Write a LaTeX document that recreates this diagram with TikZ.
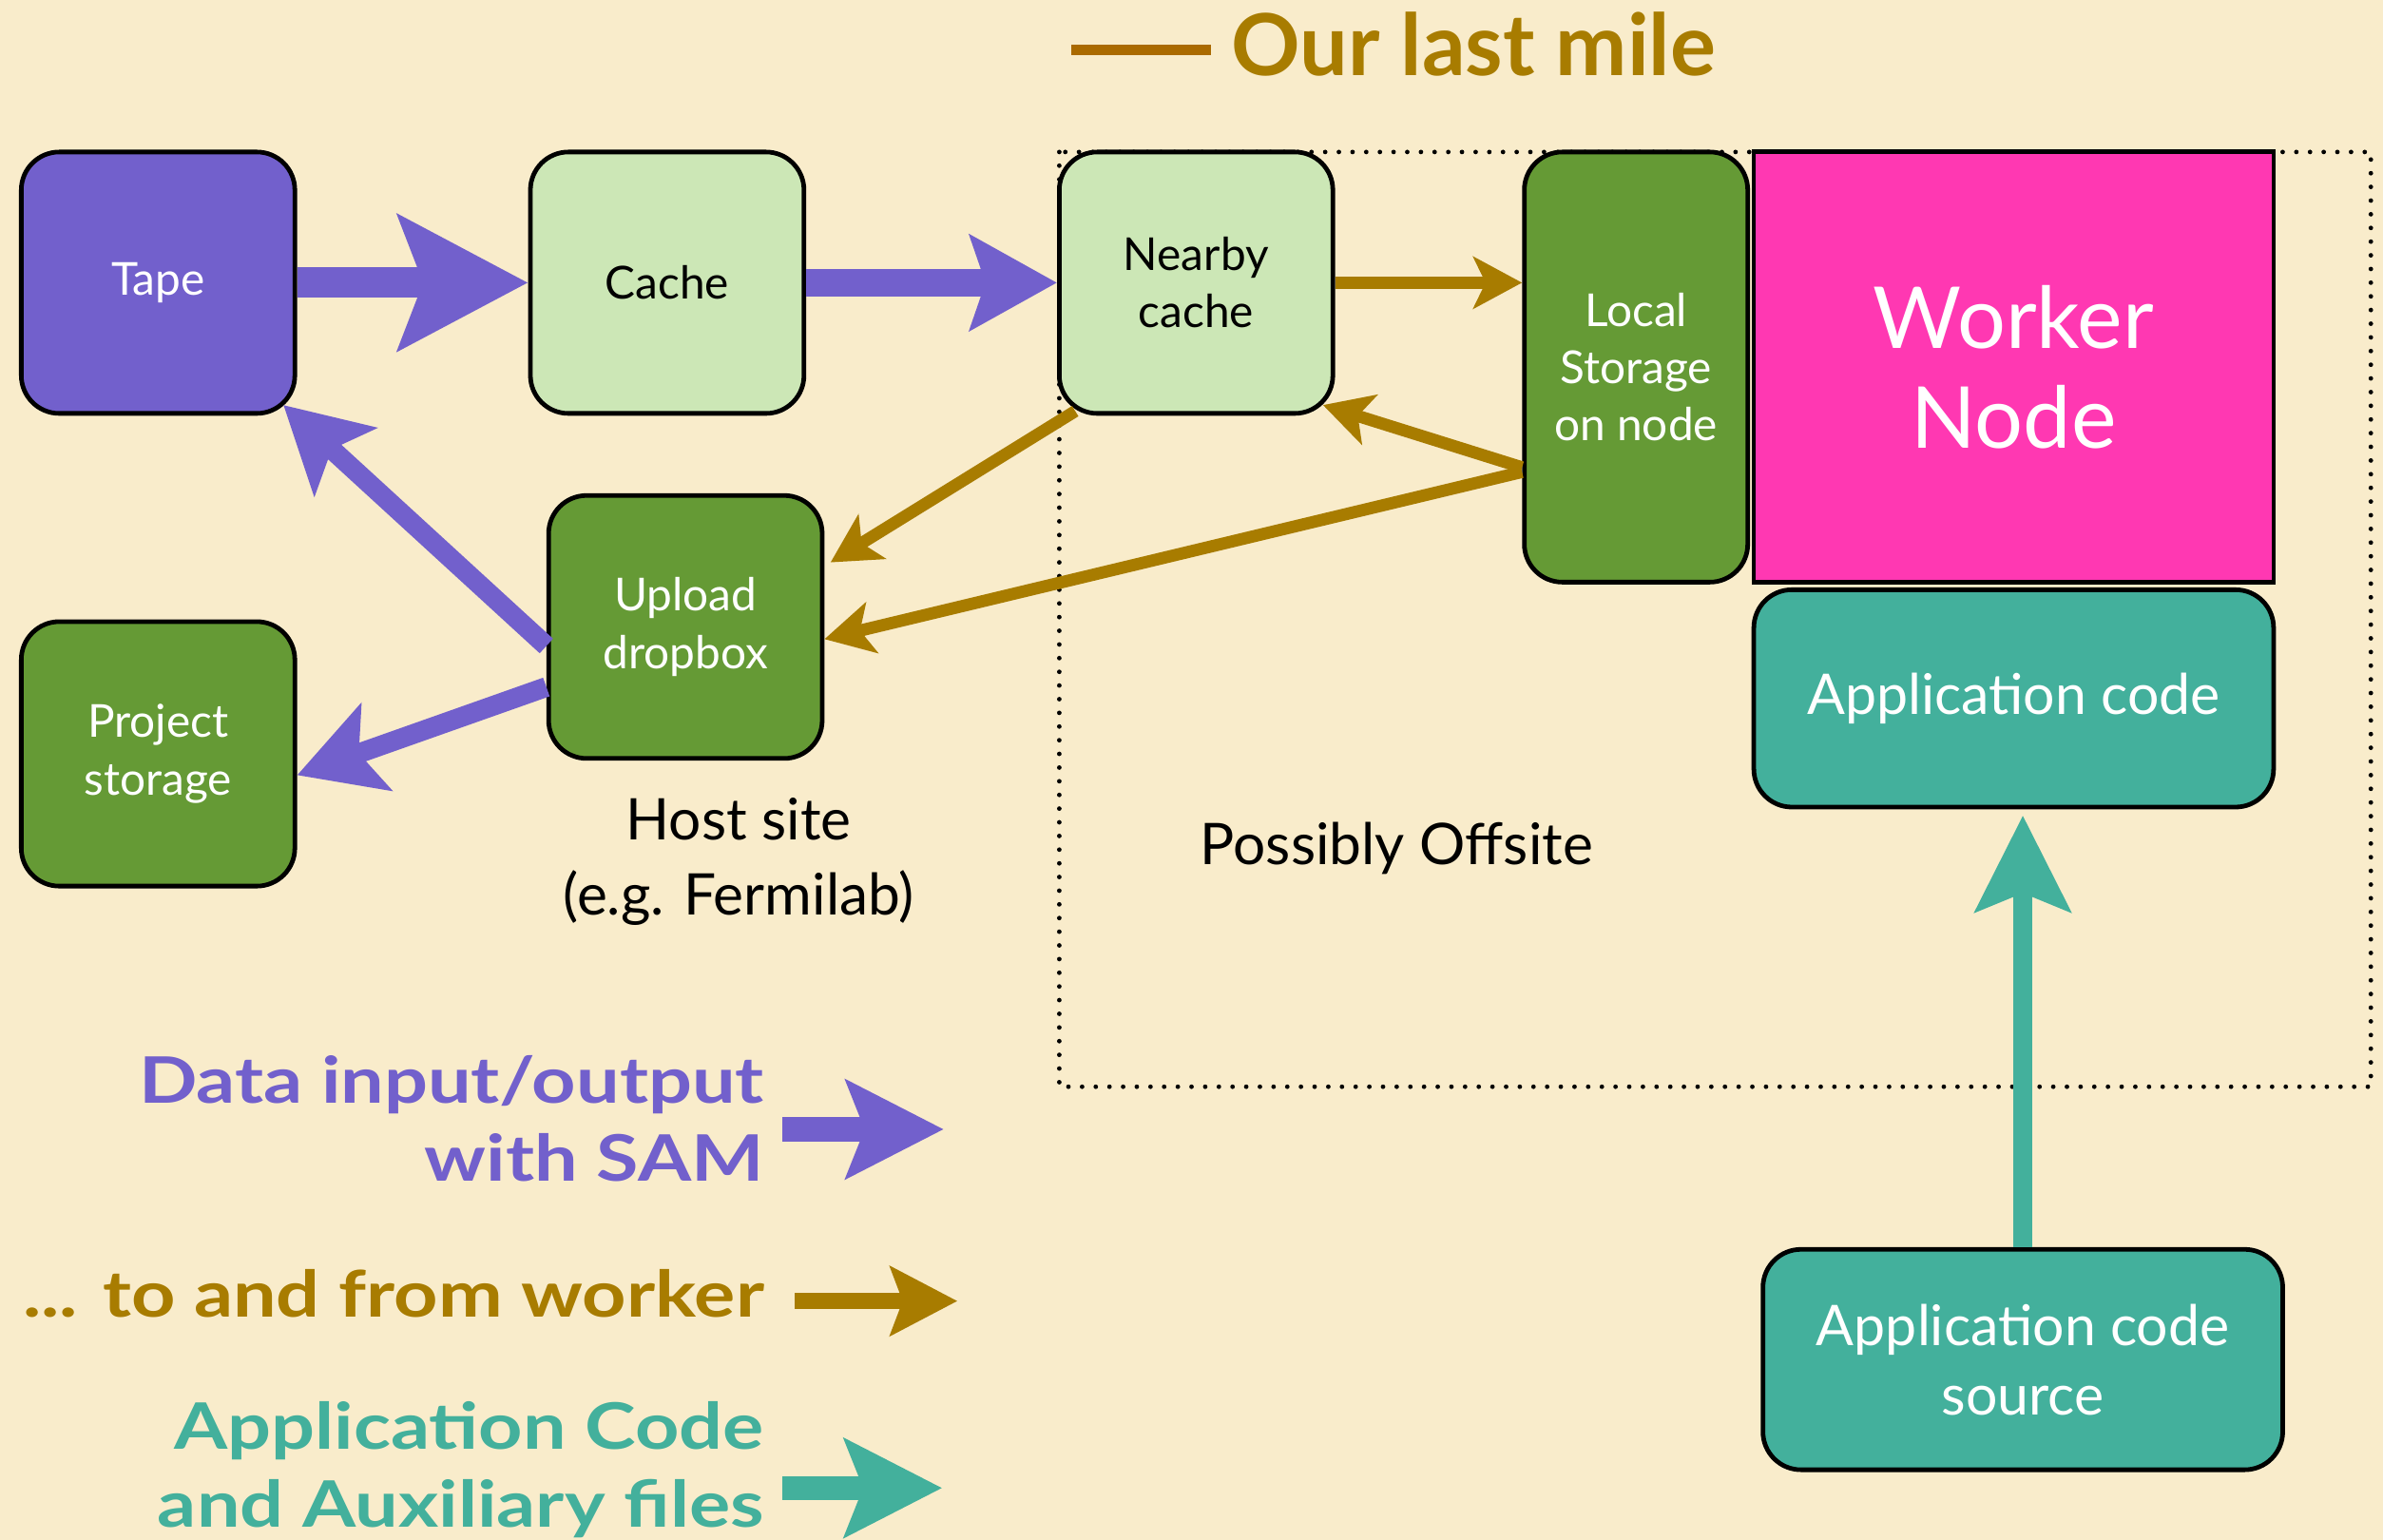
\documentclass[tikz,border=0pt]{standalone}
\usepackage{fontspec}
\setmainfont{Lato}
\newfontfamily\keyfamily[FakeStretch=1.2]{Lato}
\usetikzlibrary{calc, arrows.meta, positioning}

\definecolor{cBack}{HTML}{F9ECCB}
\definecolor{cPurple}{HTML}{7260CC}
\definecolor{cLightGreen}{HTML}{CCE7B6}
\definecolor{cDarkGreen}{HTML}{659A35}
\definecolor{cMagenta}{HTML}{FF38B2}
\definecolor{cTeal}{HTML}{43B09C}
\definecolor{cGold}{HTML}{A87C00}
\definecolor{cMile}{HTML}{AA6A00}

\newcommand{\nBoxFont}{\fontsize{17}{21.5}\selectfont}
\newcommand{\nKeyFont}{\keyfamily\fontsize{24}{29}\selectfont\bfseries}

\tikzset{
  box/.style={draw=black, line width=0.6mm, rounded corners=5mm, inner sep=0pt,
    align=center, font=\nBoxFont},
  note/.style={align=center, inner sep=0pt, font=\fontsize{21.5}{28}\selectfont},
  keytext/.style={align=right, inner sep=0pt, anchor=east, font=\nKeyFont},
  offsite/.style={line width=0.6mm, dash pattern=on 0pt off 1.8mm, line cap=round},
  bigflow/.style={line width=4mm, cPurple, -{Stealth[length=17mm, width=17.6mm, inset=3.2mm]}},
  flow/.style={line width=3.6mm, cPurple, -{Stealth[length=11.4mm, width=12.4mm, inset=2mm]}},
  backflow/.style={line width=2.6mm, cPurple, -{Stealth[length=11mm, width=12mm, inset=2.4mm]}},
  lastmile/.style={line width=1.6mm, cGold, -{Stealth[length=6.4mm, width=6.8mm, inset=1.6mm]}},
  codeflow/.style={line width=2.6mm, cTeal, -{Stealth[length=12.6mm, width=12.4mm, inset=2.4mm]}},
}

\begin{document}
\begin{tikzpicture}[x=0.2mm, y=-0.2mm]
        \fill[cBack] (0,0) rectangle (1568,1013);
        \useasboundingbox (0,0) rectangle (1568,1013);

        % the part that may be offsite
        \draw[offsite] (697,100) rectangle (1560,715);

        % host site
        \node[box, fill=cPurple, text=white, minimum width=36mm, minimum height=34.4mm] (tape) at (104,186) {Tape};
        \node[box, fill=cLightGreen, minimum width=36mm, minimum height=34.4mm] (cache) at (439,186) {Cache};
        \node[box, fill=cDarkGreen, text=white, minimum width=36mm, minimum height=34.6mm] (upload) at (451,412.5) {Upload\\dropbox};
        \node[box, fill=cDarkGreen, text=white, minimum width=36mm, minimum height=34.8mm] (project) at (104,496) {Project\\storage};

        % offsite
        \node[box, fill=cLightGreen, minimum width=36mm, minimum height=34.4mm] (nearby) at (787,186) {Nearby\\cache};
        \node[box, fill=cDarkGreen, text=white, minimum width=29.4mm, minimum height=56.6mm] (local) at (1076.5,241.5) {Local\\Storage\\on node};
        \node[box, rounded corners=0pt, fill=cMagenta, text=white, minimum width=68.4mm, minimum height=56.6mm,
              font=\fontsize{32}{37.5}\selectfont] (worker) at (1325,241.5) {Worker\\Node};
        \node[box, fill=cTeal, text=white, minimum width=68.4mm, minimum height=28.6mm,
              font=\fontsize{21}{26}\selectfont] (appcode) at (1325,459.5) {Application code};
        \node[box, fill=cTeal, text=white, minimum width=68.4mm, minimum height=29mm,
              font=\fontsize{21}{26}\selectfont] (source) at (1331,894.5) {Application code\\source};

        \node[note] (host) at (486,567) {Host site\\(e.g. Fermilab)};
        \node[note] (maybe) at (919,558) {Possibly Offsite};

        % data flow
        \draw[bigflow] (tape.east) -- (cache.west);
        \draw[flow] (cache.east) -- (nearby.west);
        \draw[backflow] ([yshift=-2.5mm]upload.west) -- ([xshift=-1.8mm,yshift=1.4mm]tape.south east);
        \draw[backflow] ([yshift=-7.9mm]upload.west) -- ([yshift=-2.8mm]project.east);

        % last mile
        \draw[lastmile] (nearby.east) -- (nearby.east -| local.west);
        \draw[lastmile] ([yshift=-13.2mm]local.west) -- ([xshift=-1.6mm,yshift=1.4mm]nearby.south east);
        \draw[lastmile] ([yshift=-13.8mm]local.west) -- ([yshift=-1.6mm]upload.east);
        \draw[lastmile] ([xshift=2.4mm,yshift=0.6mm]nearby.south west) -- ([xshift=0.8mm,yshift=8.5mm]upload.east);

        % code
        \draw[codeflow, shorten >=0.8mm] (source.north) -- (source.north |- appcode.south);

        % keys
        \coordinate (cMileL) at (705,33);
        \coordinate (cMileR) at (797,33);
        \draw[cMile, line width=1.4mm] (cMileL) -- (cMileR);
        \node[anchor=base west, inner sep=0pt, text=cGold, font=\fontsize{32}{37}\selectfont\bfseries] (mile) at (810,50) {Our last mile};

        \node[keytext, text=cPurple] (dataKey) at (503,736) {Data input/output\\with SAM};
        \coordinate (cDataL) at (515,743);
        \coordinate (cDataR) at (621,743);
        \draw[line width=3.2mm, cPurple, -{Stealth[length=12.8mm, width=12.8mm, inset=2.4mm]}] (cDataL) -- (cDataR);

        \node[keytext, text=cGold] (workerKey) at (503,851) {... to and from worker};
        \coordinate (cWorkL) at (523,856);
        \coordinate (cWorkR) at (630,856);
        \draw[line width=2.2mm, cGold, -{Stealth[length=8.8mm, width=9mm, inset=1.6mm]}] (cWorkL) -- (cWorkR);

        \node[keytext, text=cTeal] (codeKey) at (503,967) {Application Code\\and Auxiliary files};
        \coordinate (cCodeL) at (515,979);
        \coordinate (cCodeR) at (620,979);
        \draw[line width=3.2mm, cTeal, -{Stealth[length=12.8mm, width=12.8mm, inset=2.4mm]}] (cCodeL) -- (cCodeR);
\end{tikzpicture}
\end{document}
